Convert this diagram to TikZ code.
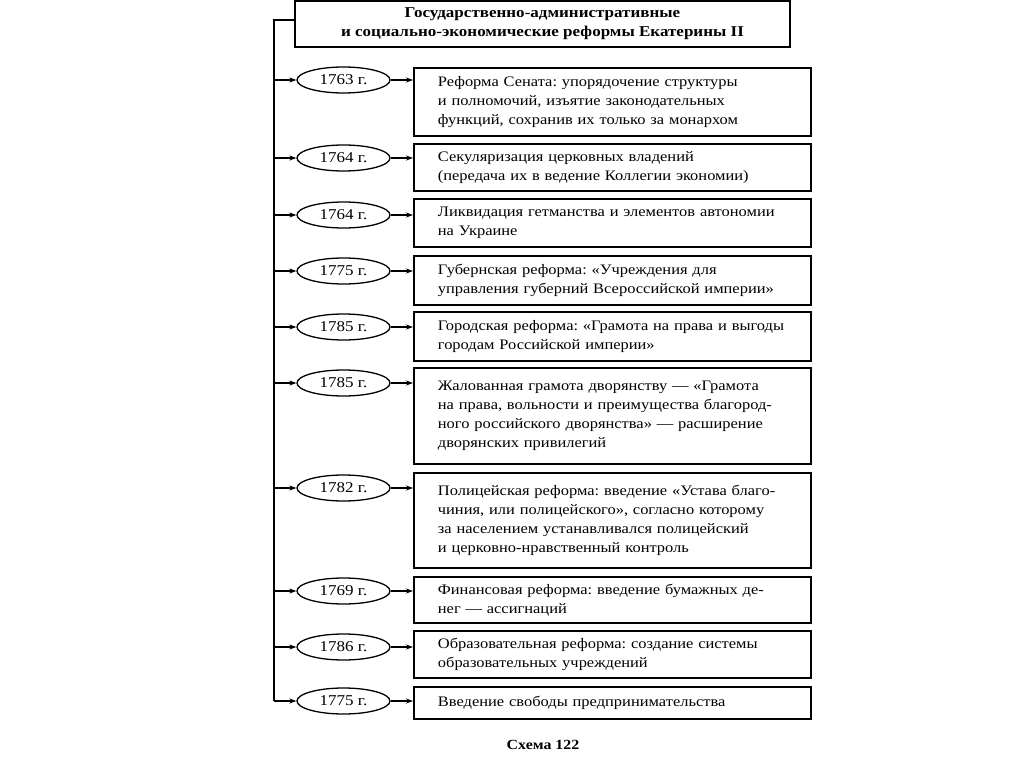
\documentclass[tikz,border=0pt]{standalone}
\usepackage{fontspec}
\setmainfont[FakeStretch=1.135]{Liberation Serif}
\usetikzlibrary{shapes.geometric,arrows.meta}
\begin{document}
\frenchspacing
\begin{tikzpicture}[x=1pt,y=-1pt,
  ov/.style={ellipse,draw,line width=1.3pt,minimum width=93pt,minimum height=26pt,inner sep=0pt,font=\fontsize{15}{17}\selectfont},
  rbox/.style={draw,line width=1.8pt,anchor=north west,minimum width=397pt,text width=349pt,inner xsep=24pt,inner ysep=0pt,align=left,font=\fontsize{14.5}{19}\selectfont},
  arr/.style={-{Stealth[length=7pt,width=5pt]},line width=1.1pt},
  trunk/.style={line width=1.4pt}]
\useasboundingbox (0,0) rectangle (1024,767);
\node[draw,line width=1.8pt,minimum width=495pt,minimum height=46pt,align=center,inner sep=0pt,
  font=\fontsize{15}{19}\selectfont\bfseries] (title) at (542.5,24)
  {Государственно-административные\\и социально-экономические реформы Екатерины II};
\coordinate (ttop) at (274,20);
\coordinate (tbot) at (274,701);
\draw[trunk] (title.west |- ttop) -- (ttop) -- (tbot);

% boxes
\node[rbox,minimum height=68pt] (b1) at (413,67) {\mbox{Реформа Сената: упорядочение структуры}\\\mbox{и полномочий, изъятие законодательных}\\\mbox{функций, сохранив их только за монархом}};
\node[rbox,minimum height=47pt] (b2) at (413,143) {\mbox{Секуляризация церковных владений}\\\mbox{(передача их в ведение Коллегии экономии)}};
\node[rbox,minimum height=48pt] (b3) at (413,198) {\mbox{Ликвидация гетманства и элементов автономии}\\\mbox{на Украине}};
\node[rbox,minimum height=49pt] (b4) at (413,255) {\mbox{Губернская реформа: «Учреждения для}\\\mbox{управления губерний Всероссийской империи»}};
\node[rbox,minimum height=49pt] (b5) at (413,311) {\mbox{Городская реформа: «Грамота на права и выгоды}\\\mbox{городам Российской империи»}};
\node[rbox,minimum height=96pt] (b6) at (413,367) {\mbox{Жалованная грамота дворянству — «Грамота}\\\mbox{на права, вольности и преимущества благород-}\\\mbox{ного российского дворянства» — расширение}\\\mbox{дворянских привилегий}};
\node[rbox,minimum height=95pt] (b7) at (413,472) {\mbox{Полицейская реформа: введение «Устава благо-}\\\mbox{чиния, или полицейского», согласно которому}\\\mbox{за населением устанавливался полицейский}\\\mbox{и церковно-нравственный контроль}};
\node[rbox,minimum height=46pt] (b8) at (413,576) {\mbox{Финансовая реформа: введение бумажных де-}\\\mbox{нег — ассигнаций}};
\node[rbox,minimum height=47pt] (b9) at (413,630) {\mbox{Образовательная реформа: создание системы}\\\mbox{образовательных учреждений}};
\node[rbox,minimum height=32pt] (b10) at (413,686) {\mbox{Введение свободы предпринимательства}};

% ovals
\foreach \i/\yy/\yr in {1/80/1763,2/158/1764,3/215/1764,4/271/1775,5/327/1785,6/383/1785,7/488/1782,8/591/1769,9/647/1786,10/701/1775}{
  \node[ov] (o\i) at (343.5,\yy) {\yr\ г.};
  \coordinate (t\i) at (274,\yy);
  \draw[arr] (t\i) -- (o\i.west);
  \draw[arr] (o\i.east) -- (o\i.east -| b\i.west);
}

\node[font=\fontsize{14}{16}\selectfont\bfseries] (cap) at (543,745) {Схема 122};
\end{tikzpicture}
\end{document}
